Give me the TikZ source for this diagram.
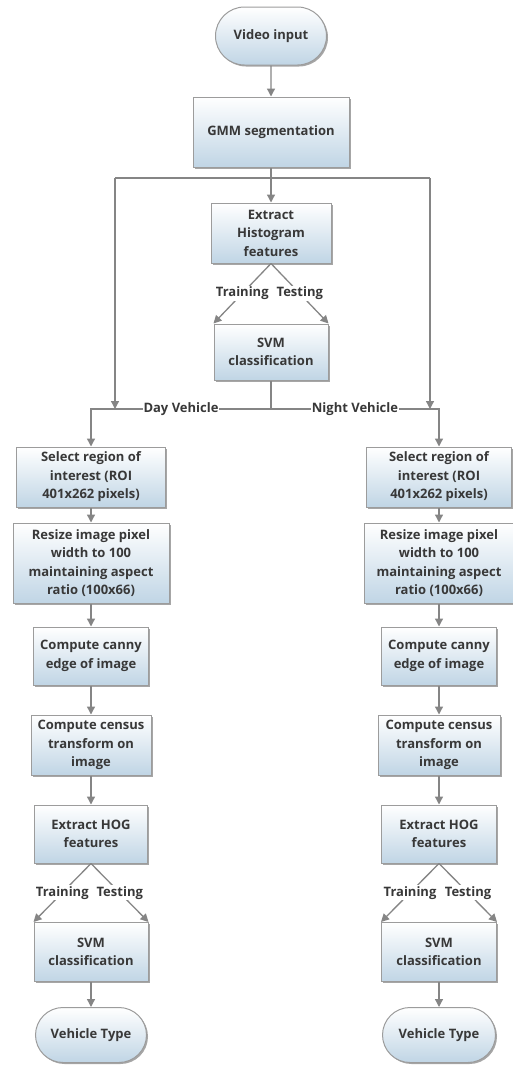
\documentclass[tikz,border=0pt]{standalone}
\usepackage{fontspec}
\setmainfont{Open Sans}
\usetikzlibrary{arrows.meta,shapes.misc,shadows}
\definecolor{linegray}{HTML}{858585}
\definecolor{bordergray}{HTML}{9C9C9C}
\definecolor{boxblue}{HTML}{C0D5E5}
\definecolor{txtgray}{HTML}{383838}
\begin{document}
\begin{tikzpicture}[x=1pt,y=-1pt,
  box/.style={draw=bordergray, line width=1pt, top color=white, bottom color=boxblue,
    drop shadow={shadow xshift=1.5pt, shadow yshift=-1.5pt, fill=black, opacity=0.35},
    align=center, font=\bfseries\fontsize{13}{18.5}\selectfont, text=txtgray, inner sep=2pt},
  term/.style={box, rounded rectangle},
  conn/.style={draw=linegray, line width=1.3pt},
  arr/.style={conn, -{Triangle[width=8pt,length=8pt]}},
  lbl/.style={fill=white, inner sep=1pt, font=\bfseries\fontsize{13}{15}\selectfont, text=txtgray}]
\useasboundingbox (0,0) rectangle (513,1066);
% top
\node[term, minimum width=115pt, minimum height=58pt] (vid) at (271,36) {Video input};
\node[box, minimum width=156pt, minimum height=70pt] (gmm) at (271,132) {GMM segmentation};
\node[box, minimum width=120pt, minimum height=60pt] (hist) at (271,233) {Extract\\Histogram\\features};
\node[box, minimum width=114pt, minimum height=56pt] (svmA) at (271,352) {SVM\\classification};
\coordinate (ltop) at (115,178);
\coordinate (rtop) at (430,178);
\coordinate (lbot) at (115,409);
\coordinate (rbot) at (430,409);
\coordinate (mid) at (271,409);
\coordinate (dayc) at (91,409);
\coordinate (nightc) at (439,409);
% left column
\node[box, minimum width=149pt, minimum height=60pt] (selL) at (91,477) {Select region of\\interest (ROI\\401x262 pixels)};
\node[box, minimum width=156pt, minimum height=80pt] (resL) at (91,563) {Resize image pixel\\width to 100\\maintaining aspect\\ratio (100x66)};
\node[box, minimum width=115pt, minimum height=58pt] (canL) at (91,656) {Compute canny\\edge of image};
\node[box, minimum width=120pt, minimum height=60pt] (cenL) at (91,745) {Compute census\\transform on\\image};
\node[box, minimum width=113pt, minimum height=58pt] (hogL) at (91,834) {Extract HOG\\features};
\node[box, minimum width=114pt, minimum height=59pt] (svmL) at (91,952) {SVM\\classification};
\node[term, minimum width=115pt, minimum height=55pt] (vtL) at (91,1035) {Vehicle Type};
% right column
\node[box, minimum width=145pt, minimum height=60pt] (selR) at (439,477) {Select region of\\interest (ROI\\401x262 pixels)};
\node[box, minimum width=150pt, minimum height=80pt] (resR) at (439,563) {Resize image pixel\\width to 100\\maintaining aspect\\ratio (100x66)};
\node[box, minimum width=115pt, minimum height=58pt] (canR) at (439,656) {Compute canny\\edge of image};
\node[box, minimum width=122pt, minimum height=60pt] (cenR) at (439,745) {Compute census\\transform on\\image};
\node[box, minimum width=115pt, minimum height=58pt] (hogR) at (439,834) {Extract HOG\\features};
\node[box, minimum width=115pt, minimum height=59pt] (svmR) at (439,952) {SVM\\classification};
\node[term, minimum width=117pt, minimum height=55pt] (vtR) at (439,1035) {Vehicle Type};
% connectors top
\draw[arr] (vid) -- (gmm);
\draw[arr] (gmm) -- (hist);
\draw[conn] (ltop) -- (rtop);
\draw[arr] (ltop) -- (lbot);
\draw[arr] (rtop) -- (rbot);
\draw[arr] (hist.south) -- node[lbl]{Training} (svmA.north west);
\draw[arr] (hist.south) -- node[lbl]{Testing} (svmA.north east);
\draw[conn] (svmA) -- (mid);
\draw[arr] (mid) -- node[lbl]{Day Vehicle} (dayc) -- (selL);
\draw[arr] (mid) -- node[lbl]{Night Vehicle} (nightc) -- (selR);
% left column connectors
\draw[arr] (selL) -- (resL);
\draw[arr] (resL) -- (canL);
\draw[arr] (canL) -- (cenL);
\draw[arr] (cenL) -- (hogL);
\draw[arr] (hogL.south) -- node[lbl]{Training} (svmL.north west);
\draw[arr] (hogL.south) -- node[lbl]{Testing} (svmL.north east);
\draw[arr] (svmL) -- (vtL);
% right column connectors
\draw[arr] (selR) -- (resR);
\draw[arr] (resR) -- (canR);
\draw[arr] (canR) -- (cenR);
\draw[arr] (cenR) -- (hogR);
\draw[arr] (hogR.south) -- node[lbl]{Training} (svmR.north west);
\draw[arr] (hogR.south) -- node[lbl]{Testing} (svmR.north east);
\draw[arr] (svmR) -- (vtR);
\end{tikzpicture}
\end{document}
